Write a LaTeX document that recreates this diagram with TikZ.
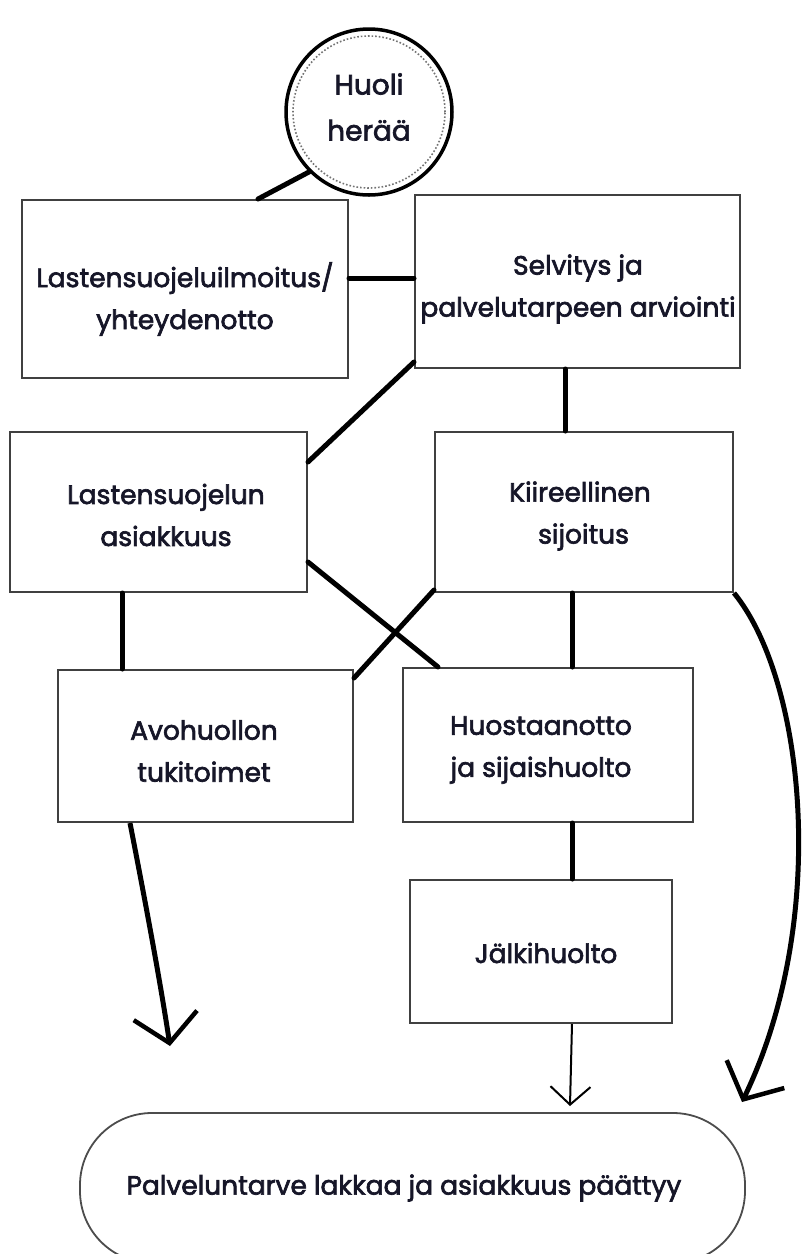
\documentclass[tikz,border=0pt]{standalone}
\usepackage{fontspec}
\setmainfont{Poppins}
\newfontfamily\labelfont{Poppins}[FakeBold=2.5]
\usetikzlibrary{arrows.meta,calc}
\definecolor{ink}{RGB}{22,22,40}
\tikzset{
  box/.style={draw=black!75, line width=2pt, rectangle, inner sep=0pt},
  txt/.style={align=center, inner sep=0pt, text=ink, font=\labelfont\fontsize{26.5}{42}\selectfont},
  conn/.style={line width=5pt, line cap=round},
  thinarrow/.style={line width=2pt, -{Straight Barb[length=18pt,width=40pt,line width=2pt]}},
  thickarrow/.style={line width=5pt, -{Straight Barb[length=28pt,width=64pt,line width=4.5pt]}}
}
\begin{document}
\begin{tikzpicture}[x=1pt,y=-1pt]
\useasboundingbox (0,0) rectangle (805,1254);
\clip (0,0) rectangle (805,1254);
% circle
\node[circle, draw=black, line width=3.5pt, minimum size=166pt, inner sep=0pt] (start) at (369,112) {};
\draw[black!55, line width=1.6pt, dotted] (start.center) circle (76pt);
\node[txt, font=\labelfont\fontsize{28}{46}\selectfont] (starttxt) at (369,107) {Huoli\\herää};
% boxes
\node[box, minimum width=326pt, minimum height=178pt] (b1) at (185,289) {};
\node[box, minimum width=325pt, minimum height=173pt] (b2) at (577.5,281.5) {};
\node[box, minimum width=297pt, minimum height=160pt] (b3) at (158.5,512) {};
\node[box, minimum width=298pt, minimum height=160pt] (b4) at (584,512) {};
\node[box, minimum width=295pt, minimum height=152pt] (b5) at (205.5,746) {};
\node[box, minimum width=290pt, minimum height=154pt] (b6) at (548,745) {};
\node[box, minimum width=262pt, minimum height=143pt] (b7) at (541,951.5) {};
\node[draw=black!70, line width=1.8pt, rounded corners=72pt, minimum width=665pt, minimum height=150pt,
  inner sep=0pt] (end) at (412.5,1188) {};
% texts
\node[txt] (t1) at (185,299) {Lastensuojeluilmoitus/\\yhteydenotto};
\node[txt] (t2) at (578,289) {Selvitys ja\\palvelutarpeen arviointi};
\node[txt] (t3) at (166,515) {Lastensuojelun\\asiakkuus};
\node[txt] (t4) at (580,516) {Kiireellinen\\\ sijoitus};
\node[txt] (t5) at (204,751) {Avohuollon\\tukitoimet};
\node[txt] (t6) at (541,750) {Huostaanotto\\ja sijaishuolto};
\node[txt] (t7) at (546,953) {Jälkihuolto};
\node[txt] (t8) at (404,1188) {Palveluntarve lakkaa ja asiakkuus päättyy};
% connectors
\draw[conn] (start.225) -- (b1.north -| 258,0);
\draw[conn] (b1.east |- 0,278) -- (b2.west |- 0,278);
\draw[conn] (b2.south west |- 0,362) -- (b3.east |- 0,462);
\draw[conn] (b2.south -| 565,0) -- (b4.north -| 565,0);
\draw[conn] (b3.south -| 122,0) -- (b5.north -| 122,0);
\draw[conn] (b3.east |- 0,562) -- (b6.north -| 438,0);
\draw[conn] (b4.west |- 0,590) -- (b5.east |- 0,678);
\draw[conn] (b4.south -| 572,0) -- (b6.north -| 572,0);
\draw[conn] (b6.south -| 572,0) -- (b7.north -| 572,0);
% arrows
\draw[thinarrow] (b7.south -| 572,0) -- (570,1106);
\draw[thickarrow] (b5.south -| 130,0) .. controls (145,900) and (160,980) .. (170,1046);
\draw[thickarrow] (b4.south east) .. controls (805,680) and (830,920) .. (742,1102);
\end{tikzpicture}
\end{document}
